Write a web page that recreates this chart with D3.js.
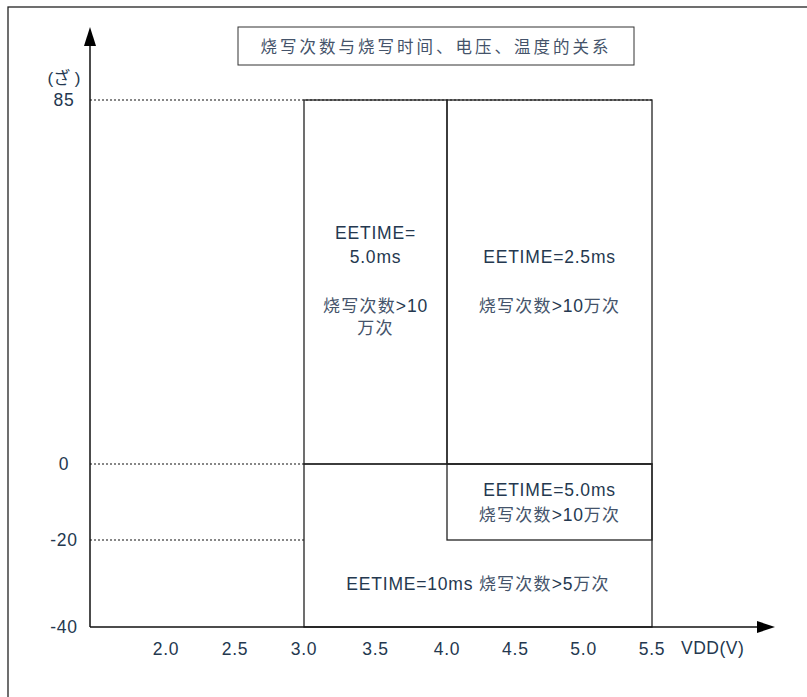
<!DOCTYPE html>
<html>
<head>
<meta charset="utf-8">
<script src="https://cdn.jsdelivr.net/npm/d3@7"></script>
<style>
  body { margin: 0; background: #fff; }
  text { font-family: "Liberation Sans", "Noto Sans CJK SC", sans-serif; fill: #24384f; }
  tspan.cjk { fill: #44536a; }
</style>
</head>
<body>
<svg id="chart"></svg>
<script>
const width = 807;
const height = 697;

const title = "烧写次数与烧写时间、电压、温度的关系";
const yUnit = "(ざ )";
const xUnit = "VDD(V)";
const yTicks = [85, 0, -20, -40];
const xTicks = [2.0, 2.5, 3.0, 3.5, 4.0, 4.5, 5.0, 5.5];
// dotted guides: [temperature, vdd where it stops]
const guides = [[85, 5.5], [0, 3.0], [-20, 3.0]];
// regions: vdd from/to, temp from/to
const regionX0 = [3.0, 4.0, 4.0, 3.0];
const regionX1 = [4.0, 5.5, 5.5, 5.5];
const regionY0 = [0, 0, -20, -40];
const regionY1 = [85, 85, 0, 0];
// temp range that each label is centred in
const labelY0 = [0, 0, -20, -40];
const labelY1 = [85, 85, 0, -20];
const regionLines = [
  ["EETIME=", "5.0ms", "", "烧写次数>10", "万次"],
  ["EETIME=2.5ms", "", "烧写次数>10万次"],
  ["EETIME=5.0ms", "烧写次数>10万次"],
  ["EETIME=10ms 烧写次数>5万次"]
];
const lineGap = [[-49, -25, 0, 24, 46], [-25, 0, 24], [-12.5, 12.5], [0]];

// latin and CJK runs get different sizes, like the original
function mixedText(sel, str, cjkSize, cjkSpace) {
  const runs = str.match(/[\u3000-\u9fff]+|[^\u3000-\u9fff]+/g) || [];
  runs.forEach((r) => {
    const isCjk = /[\u3000-\u9fff]/.test(r);
    sel.append("tspan")
      .attr("class", isCjk ? "cjk" : "lat")
      .attr("font-size", isCjk ? cjkSize : 17.5)
      .attr("letter-spacing", isCjk ? cjkSpace : 0.8)
      .text(r);
  });
}

function init() {
  const svg = d3.select("#chart").attr("width", width).attr("height", height);

  // the axis scales are not even: the original is drawn by hand
  const x = d3.scaleLinear().domain([2, 3, 4, 5.5]).range([166, 304, 447, 652]);
  const y = d3.scaleLinear().domain([-40, -20, 0, 85]).range([627, 540, 464, 100]);

  // outer frame (clipped on the right and bottom)
  svg.append("rect")
    .attr("x", 8).attr("y", 7)
    .attr("width", 900).attr("height", 800)
    .attr("fill", "none").attr("stroke", "#222").attr("stroke-width", 1.3);

  // title box
  svg.append("rect")
    .attr("x", 238).attr("y", 27)
    .attr("width", 396).attr("height", 38)
    .attr("fill", "none").attr("stroke", "#333").attr("stroke-width", 1);
  svg.append("text")
    .attr("x", 436).attr("y", 47)
    .attr("text-anchor", "middle").attr("dominant-baseline", "central")
    .call(mixedText, title, 16.5, 3.0);

  // dotted guides
  svg.selectAll(".guide")
    .data(guides)
    .enter()
    .append("line")
    .attr("class", "guide")
    .attr("x1", 90).attr("x2", (d) => x(d[1]))
    .attr("y1", (d) => y(d[0])).attr("y2", (d) => y(d[0]))
    .attr("stroke", "#111").attr("stroke-width", 1.2)
    .attr("stroke-dasharray", "2,2");

  // regions
  const idx = d3.range(regionX0.length);
  svg.selectAll(".region")
    .data(idx)
    .enter()
    .append("rect")
    .attr("class", "region")
    .attr("x", (i) => x(regionX0[i]))
    .attr("y", (i) => y(regionY1[i]))
    .attr("width", (i) => x(regionX1[i]) - x(regionX0[i]))
    .attr("height", (i) => y(regionY0[i]) - y(regionY1[i]))
    .attr("fill", "none").attr("stroke", "#222").attr("stroke-width", 1.3);

  // region labels
  idx.forEach((i) => {
    const cx = (x(regionX0[i]) + x(regionX1[i])) / 2;
    const cy = (y(labelY0[i]) + y(labelY1[i])) / 2;
    regionLines[i].forEach((t, j) => {
      if (!t) return;
      svg.append("text")
        .attr("x", cx).attr("y", cy + lineGap[i][j])
        .attr("text-anchor", "middle").attr("dominant-baseline", "central")
        .call(mixedText, t, 17, 1.2);
    });
  });

  // axes with arrows
  svg.append("line")
    .attr("x1", 90).attr("x2", 90).attr("y1", 627).attr("y2", 40)
    .attr("stroke", "#111").attr("stroke-width", 1.5);
  svg.append("path")
    .attr("d", "M90,27 L84,46 L96,46 Z").attr("fill", "#000");
  svg.append("line")
    .attr("x1", 90).attr("x2", 762).attr("y1", 627).attr("y2", 627)
    .attr("stroke", "#111").attr("stroke-width", 1.5);
  svg.append("path")
    .attr("d", "M775,627 L757,621 L757,633 Z").attr("fill", "#000");

  // tick labels
  svg.selectAll(".ylab")
    .data(yTicks)
    .enter()
    .append("text")
    .attr("class", "ylab")
    .attr("x", 64).attr("y", (d) => y(d))
    .attr("text-anchor", "middle").attr("dominant-baseline", "central")
    .attr("font-size", 17.5).attr("letter-spacing", 0.8)
    .text((d) => d);
  svg.append("text")
    .attr("x", 64).attr("y", 78)
    .attr("text-anchor", "middle").attr("dominant-baseline", "central")
    .attr("font-size", 17)
    .text(yUnit);

  svg.selectAll(".xlab")
    .data(xTicks)
    .enter()
    .append("text")
    .attr("class", "xlab")
    .attr("x", (d) => x(d)).attr("y", 649)
    .attr("text-anchor", "middle").attr("dominant-baseline", "central")
    .attr("font-size", 17.5).attr("letter-spacing", 0.8)
    .text((d) => d3.format(".1f")(d));
  svg.append("text")
    .attr("x", 681).attr("y", 648)
    .attr("dominant-baseline", "central")
    .attr("font-size", 17.5).attr("letter-spacing", 0.5)
    .text(xUnit);
}

init();
</script>
</body>
</html>
